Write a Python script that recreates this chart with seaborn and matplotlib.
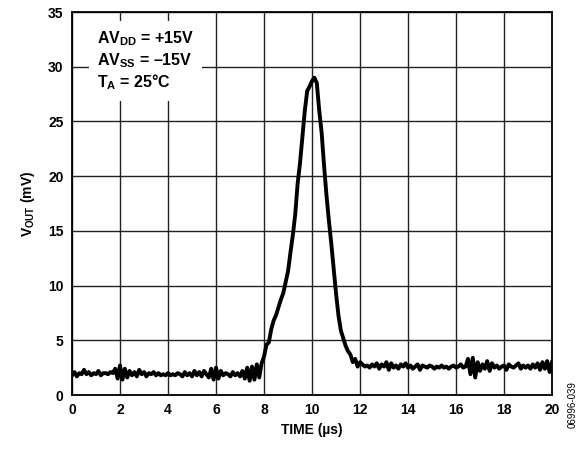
import matplotlib
matplotlib.use("Agg")
import matplotlib.pyplot as plt
import numpy as np
import seaborn as sns

# output voltage trace (mV), one reading every 0.1 us from 0 to 20 us
vout = [
    1.8, 2.1, 1.7, 2.0, 1.9, 2.3, 1.9, 2.1, 1.8, 2.0,   # 0.0 - 0.9
    1.9, 2.2, 1.8, 2.0, 2.0, 1.9, 2.1, 2.0, 2.4, 1.5,   # 1.0 - 1.9
    2.7, 1.4, 2.4, 1.6, 2.2, 1.8, 2.1, 1.7, 2.3, 1.9,   # 2.0 - 2.9
    2.1, 1.7, 2.0, 1.9, 2.1, 1.8, 2.0, 1.8, 1.9, 1.8,   # 3.0 - 3.9
    2.0, 1.8, 1.9, 1.8, 2.0, 1.9, 1.7, 2.1, 1.8, 2.0,   # 4.0 - 4.9
    1.7, 2.2, 1.8, 2.1, 1.7, 2.2, 1.9, 1.6, 2.4, 1.4,   # 5.0 - 5.9
    2.5, 1.5, 2.2, 1.8, 2.0, 1.9, 1.7, 2.1, 1.8, 2.0,   # 6.0 - 6.9
    1.7, 2.2, 1.5, 2.5, 1.3, 2.6, 1.4, 2.8, 1.6, 2.9,   # 7.0 - 7.9
    3.5, 4.6, 4.8, 6.0, 6.8, 7.3, 8.0, 8.7, 9.3, 10.3,  # 8.0 - 8.9
    11.3, 13.0, 14.6, 16.5, 19.3, 21.2, 23.6, 26.0, 27.8, 28.2,  # 9.0 - 9.9
    28.7, 29.0, 28.5, 26.0, 24.0, 21.0, 18.3, 16.0, 13.9, 11.6,  # 10.0 - 10.9
    9.3, 7.3, 5.9, 5.2, 4.5, 4.0, 3.7, 3.0, 3.3, 2.6,   # 11.0 - 11.9
    3.0, 2.8, 2.6, 2.7, 2.5, 2.8, 2.6, 2.9, 2.4, 2.8,   # 12.0 - 12.9
    2.6, 3.0, 2.3, 2.9, 2.5, 2.7, 2.4, 2.8, 2.6, 2.9,   # 13.0 - 13.9
    2.5, 2.7, 2.4, 2.6, 2.8, 2.3, 2.7, 2.6, 2.5, 2.7,   # 14.0 - 14.9
    2.6, 2.4, 2.6, 2.5, 2.7, 2.5, 2.6, 2.4, 2.6, 2.7,   # 15.0 - 15.9
    2.5, 2.6, 2.8, 2.5, 2.6, 3.3, 1.9, 3.4, 1.6, 3.0,   # 16.0 - 16.9
    2.2, 2.8, 2.4, 3.1, 2.2, 2.9, 2.5, 2.7, 2.4, 2.6,   # 17.0 - 17.9
    2.7, 2.3, 2.8, 2.6, 2.5, 2.7, 2.9, 2.4, 2.7, 2.5,   # 18.0 - 18.9
    2.7, 2.4, 2.8, 2.5, 2.9, 2.3, 3.0, 2.4, 3.1, 2.1,   # 19.0 - 19.9
    3.0,                                                # 20.0
]
time_us = np.linspace(0, 20, len(vout))

x_ticks = [0, 2, 4, 6, 8, 10, 12, 14, 16, 18, 20]
y_ticks = [0, 5, 10, 15, 20, 25, 30, 35]

plt.rcParams['font.family'] = ['Liberation Sans', 'DejaVu Sans']
plt.rcParams['font.weight'] = 'bold'
plt.rcParams['mathtext.fontset'] = 'custom'
plt.rcParams['mathtext.rm'] = 'Liberation Sans:bold'
plt.rcParams['mathtext.it'] = 'Liberation Sans:bold'
plt.rcParams['mathtext.bf'] = 'Liberation Sans:bold'
plt.rcParams['mathtext.default'] = 'rm'

fig = plt.figure(figsize=(5.87, 4.5), dpi=100)
ax = fig.add_axes([0.1227, 0.1222, 0.8177, 0.8511])

sns.lineplot(x=time_us, y=vout, color='black', linewidth=2.8, ax=ax, zorder=3)

ax.set_xlim(0, 20)
ax.set_ylim(0, 35)
ax.set_xticks(x_ticks)
ax.set_yticks(y_ticks)
ax.grid(True, color='#222222', linewidth=1.0)
ax.set_axisbelow(True)
ax.tick_params(length=0, labelsize=10, pad=6)
for lab in ax.get_xticklabels() + ax.get_yticklabels():
    lab.set_fontweight('bold')
for sp in ax.spines.values():
    sp.set_linewidth(1.3)
    sp.set_color('black')

ax.set_xlabel('TIME (µs)', fontsize=10, fontweight='bold', labelpad=4)
ax.set_ylabel('V$_{OUT}$ (mV)', fontsize=10, fontweight='bold', labelpad=8)

ax.text(1.05, 33.4, 'AV$_{DD}$ = +15V\nAV$_{SS}$ = \u201315V\nT$_{A}$ = 25°C',
        fontsize=11.5, fontweight='bold', va='top', ha='left', linespacing=1.2,
        bbox=dict(facecolor='white', edgecolor='none', pad=6), zorder=4)

fig.text(0.975, 0.1, '06996-039', rotation=90, fontsize=7, fontweight='normal',
         ha='center', va='center')

fig.savefig('out.png', dpi=100)
